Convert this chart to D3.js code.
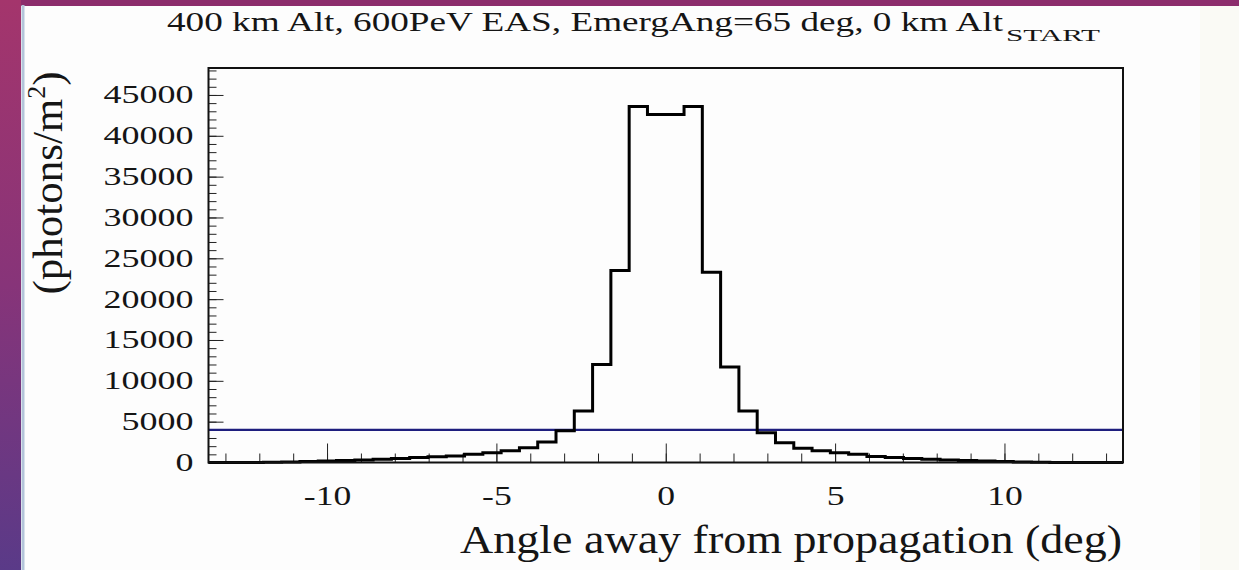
<!DOCTYPE html>
<html>
<head>
<meta charset="utf-8">
<script src="https://cdn.jsdelivr.net/npm/d3@7"></script>
<style>
  body { margin: 0; background: #fff; }
  svg { display: block; }
  text { font-family: "Liberation Serif", "DejaVu Serif", serif; fill: #151515; }
</style>
</head>
<body>
<svg id="chart" width="1239" height="570"></svg>
<script>

// histogram: 50 bins from -13.5 to 13.5 deg
const xDomain = [-13.5, 13.5];
const yDomain = [0, 48300];

const photons = [
    0, 5, 15, 35, 70, 120, 180, 250, 320, 400,
    500, 600, 700, 800, 1000, 1200, 1450, 1800, 2500, 3900,
    6300, 12000, 23500, 43600, 42600, 42600, 43600, 23300, 11700, 6300,
    3650, 2420, 1740, 1450, 1200, 1000, 720, 600, 500, 400,
    320, 250, 180, 120, 70, 35, 15, 5, 0, 0
];

const threshold = [4000];

const yTicks = [0, 5000, 10000, 15000, 20000, 25000, 30000, 35000, 40000, 45000];
const xTicks = [-10, -5, 0, 5, 10];

const titleMain = "400 km Alt, 600PeV EAS, EmergAng=65 deg, 0 km Alt";
const titleSub = "START";
const xTitle = "Angle away from propagation (deg)";


function histChart() {

    let svg = d3.select('#chart');

    // page backdrop (slide edges)
    let defs = svg.append('defs');
    let grad = defs.append('linearGradient')
        .attr('id', 'side')
        .attr('x1', 0).attr('y1', 0).attr('x2', 0).attr('y2', 1);
    grad.append('stop').attr('offset', '0%').attr('stop-color', '#a4356c');
    grad.append('stop').attr('offset', '50%').attr('stop-color', '#873479');
    grad.append('stop').attr('offset', '100%').attr('stop-color', '#5a3a88');

    svg.append('rect')
        .attr('x', 0).attr('y', 0).attr('width', 1239).attr('height', 570)
        .attr('fill', '#fdfdfd');
    svg.append('rect')
        .attr('x', 1200).attr('y', 0).attr('width', 39).attr('height', 570)
        .attr('fill', '#fafaf5');
    svg.append('rect')
        .attr('x', 0).attr('y', 0).attr('width', 1239).attr('height', 6)
        .attr('fill', '#8c2d6c');
    svg.append('rect')
        .attr('x', 0).attr('y', 0).attr('width', 21).attr('height', 570)
        .attr('fill', 'url(#side)');
    svg.append('line')
        .attr('x1', 23).attr('x2', 23).attr('y1', 5).attr('y2', 570)
        .attr('stroke', '#b3c5da').attr('stroke-width', 3);

    let x = d3.scaleLinear()
        .domain(xDomain)
        .range([208.5, 1123]);
    let y = d3.scaleLinear()
        .domain(yDomain)
        .range([462.5, 68]);

    // stretch text horizontally like the original picture
    function stretch(sel, k) {
        sel.each(function () {
            let w = this.getComputedTextLength();
            d3.select(this)
                .attr('textLength', w * k)
                .attr('lengthAdjust', 'spacingAndGlyphs');
        });
    }

    // minor ticks
    svg.append('g')
        .attr('transform', 'translate(' + x.range()[0] + ',0)')
        .call(d3.axisLeft(y).tickValues(d3.range(0, yDomain[1], 1000))
            .tickSizeInner(-8).tickSizeOuter(0).tickFormat(''))
        .call(g => g.select('.domain').remove())
        .selectAll('line').attr('stroke', '#222');
    svg.append('g')
        .attr('transform', 'translate(0,' + y.range()[0] + ')')
        .call(d3.axisBottom(x).tickValues(d3.range(-13, 14, 1))
            .tickSizeInner(-9).tickSizeOuter(0).tickFormat(''))
        .call(g => g.select('.domain').remove())
        .selectAll('line').attr('stroke', '#222');

    // y axis
    let yAxis = svg.append('g')
        .attr('transform', 'translate(' + x.range()[0] + ',0)')
        .call(d3.axisLeft(y).tickValues(yTicks)
            .tickSizeInner(-15).tickSizeOuter(0).tickPadding(15)
            .tickFormat(d => String(d)));
    yAxis.select('.domain').remove();
    yAxis.selectAll('line').attr('stroke', '#222');
    yAxis.selectAll('text')
        .style('font-size', '25px')
        .attr('fill', '#151515')
        .call(stretch, 1.44);

    // x axis
    let xAxis = svg.append('g')
        .attr('transform', 'translate(0,' + y.range()[0] + ')')
        .call(d3.axisBottom(x).tickValues(xTicks)
            .tickSizeInner(-19).tickSizeOuter(0).tickPadding(23)
            .tickFormat(d => String(d)));
    xAxis.select('.domain').remove();
    xAxis.selectAll('line').attr('stroke', '#222');
    xAxis.selectAll('text')
        .style('font-size', '27px')
        .attr('fill', '#151515')
        .call(stretch, 1.32);

    // threshold line
    svg.selectAll('.thr')
        .data(threshold)
        .enter()
        .append('line')
          .attr('class', 'thr')
          .attr('x1', x(xDomain[0]))
          .attr('x2', x(xDomain[1]))
          .attr('y1', d => y(d))
          .attr('y2', d => y(d))
          .attr('stroke', '#1e1e7e')
          .attr('stroke-width', 2.2);

    // histogram outline
    let step = (xDomain[1] - xDomain[0]) / photons.length;
    let pts = [];
    photons.forEach((v, i) => {
        pts.push([xDomain[0] + i * step, v]);
        pts.push([xDomain[0] + (i + 1) * step, v]);
    });
    svg.append('path')
        .datum(pts)
        .attr('d', d3.line().x(d => x(d[0])).y(d => y(d[1])))
        .attr('fill', 'none')
        .attr('stroke', '#000')
        .attr('stroke-width', 3)
        .attr('stroke-linejoin', 'miter');

    // frame
    svg.append('rect')
        .attr('x', x.range()[0])
        .attr('y', y.range()[1])
        .attr('width', x.range()[1] - x.range()[0])
        .attr('height', y.range()[0] - y.range()[1])
        .attr('fill', 'none')
        .attr('stroke', '#111')
        .attr('stroke-width', 2);

    // title
    svg.append('text')
        .attr('x', 167)
        .attr('y', 31)
        .style('font-size', '27px')
        .attr('textLength', 836)
        .attr('lengthAdjust', 'spacingAndGlyphs')
        .text(titleMain);
    svg.append('text')
        .attr('x', 1006)
        .attr('y', 41)
        .style('font-size', '17px')
        .attr('textLength', 94)
        .attr('lengthAdjust', 'spacingAndGlyphs')
        .text(titleSub);

    // x axis title
    svg.append('text')
        .attr('x', 460)
        .attr('y', 553)
        .style('font-size', '39px')
        .attr('textLength', 662)
        .attr('lengthAdjust', 'spacingAndGlyphs')
        .text(xTitle);

    // y axis title
    let yt = svg.append('text')
        .attr('transform', 'translate(62,183)rotate(-90)')
        .attr('text-anchor', 'middle')
        .style('font-size', '43px');
    yt.append('tspan').text('(photons/m');
    yt.append('tspan').attr('dy', -17).style('font-size', '26px').text('2');
    yt.append('tspan').attr('dy', 17).text(')');

    return svg;
}

histChart();

</script>
</body>
</html>
